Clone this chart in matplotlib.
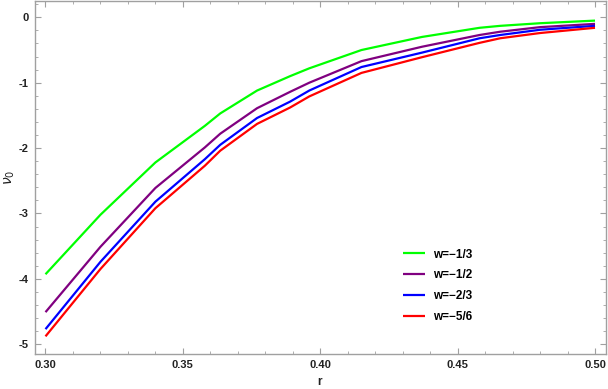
import matplotlib
matplotlib.use("Agg")
import matplotlib.pyplot as plt
from matplotlib.ticker import MultipleLocator, FormatStrFormatter

r = [0.300, 0.320, 0.340, 0.358, 0.3636, 0.377, 0.389, 0.396, 0.415, 0.437, 0.458, 0.4655, 0.480, 0.500]
nu_w13 = [-3.93, -3.02, -2.22, -1.66, -1.47, -1.12, -0.90, -0.78, -0.50, -0.30, -0.16, -0.13, -0.09, -0.05]
nu_w12 = [-4.51, -3.51, -2.61, -1.99, -1.78, -1.39, -1.14, -1.00, -0.67, -0.45, -0.27, -0.22, -0.15, -0.10]
nu_w23 = [-4.77, -3.74, -2.82, -2.17, -1.95, -1.54, -1.29, -1.12, -0.76, -0.54, -0.32, -0.27, -0.19, -0.13]
nu_w56 = [-4.88, -3.85, -2.92, -2.27, -2.04, -1.63, -1.38, -1.21, -0.85, -0.61, -0.39, -0.32, -0.24, -0.16]

labels = ["w=\u22121/3", "w=\u22121/2", "w=\u22122/3", "w=\u22125/6"]
colors = ["#00FF00", "#800080", "#0000FF", "#FF0000"]
series = [nu_w13, nu_w12, nu_w23, nu_w56]

plt.rcParams['font.family'] = ['Liberation Sans', 'DejaVu Sans']

fig = plt.figure(figsize=(6.08, 3.89), dpi=100)
ax = fig.add_axes([34.5/608, 35/389, (606-34.5)/608, (388-35)/389])

for y, c, lab in zip(series, colors, labels):
    ax.plot(r, y, color=c, lw=1.6, label=lab, solid_capstyle='butt', solid_joinstyle='round')

ax.set_xlim(0.296, 0.504)
ax.set_ylim(-5.15, 0.25)
ax.xaxis.set_major_locator(MultipleLocator(0.05))
ax.xaxis.set_minor_locator(MultipleLocator(0.01))
ax.yaxis.set_major_locator(MultipleLocator(1))
ax.yaxis.set_minor_locator(MultipleLocator(0.2))
ax.xaxis.set_major_formatter(FormatStrFormatter('%.2f'))
ax.yaxis.set_major_formatter(plt.FuncFormatter(lambda v, p: '%d' % round(v)))

for s in ax.spines.values():
    s.set_color('#a0a0a0')
    s.set_linewidth(1.0)
ax.tick_params(which='both', direction='in', top=True, right=True, color='#a0a0a0')
ax.tick_params(which='major', length=4.5, width=0.8)
ax.tick_params(which='minor', length=2.5, width=0.6)
ax.tick_params(axis='both', labelsize=8, labelcolor='#222222', pad=4)
for t in ax.get_xticklabels() + ax.get_yticklabels():
    t.set_fontweight('bold')

fig.text(320/608, 1 - 382/389, 'r', ha='center', va='center', fontsize=8.5,
         fontweight='bold', color='#222222')
fig.text(10/608, 1 - 177/389, r'$\nu_0$', ha='center', va='center', rotation=90,
         fontsize=10, color='#222222')

leg = ax.legend(loc='upper left', frameon=False,
                handlelength=1.9, handletextpad=0.7, labelspacing=0.75,
                prop={'weight': 'bold', 'size': 8.5})
leg.set_bbox_to_anchor(((392 - 34.5) / (606 - 34.5), 1 - (238 - 1) / (354 - 1)),
                       transform=ax.transAxes)

fig.savefig('out.png', dpi=100)
